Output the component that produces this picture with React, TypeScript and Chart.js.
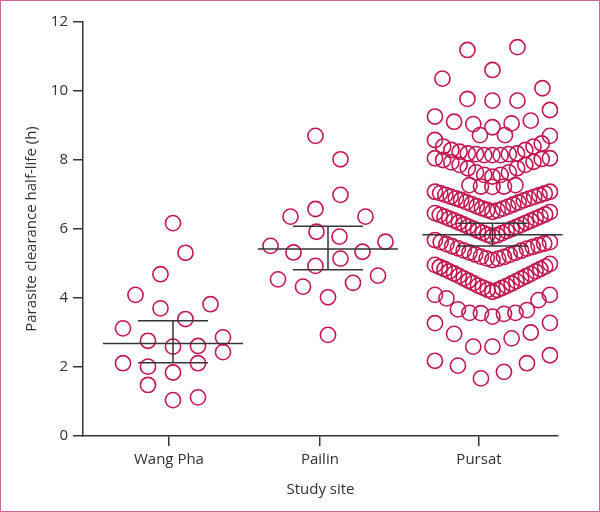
import { useEffect, useRef } from 'react';
import { Chart, registerables } from 'chart.js';

Chart.register(...registerables);

// ---- Data ----
const sites = ['Wang Pha', 'Pailin', 'Pursat'];

// Each row lists values left -> right as they are spread in the swarm (null = empty slot)
const wangPhaRows: (number | null)[][] = [
  [6.17],
  [4.69, 5.31],
  [4.09, 3.7, 3.39, 3.82],
  [3.12, 2.76, 2.59, 2.61, 2.86],
  [2.11, 2.01, 1.84, 2.11, 2.43],
  [1.48, 1.04, 1.12],
];

const pailinRows: (number | null)[][] = [
  [8.7, 8.02],
  [6.36, 6.58, 6.99, 6.36],
  [5.51, 5.32, 5.92, 5.78, 5.34, 5.63],
  [4.93, 5.14],
  [4.54, 4.33, 4.02, 4.44, 4.65],
  [2.93],
];

const pursatRows: (number | null)[][] = [
  [null, 11.19, null, 11.27, null],
  [10.36, null, 10.61, null, 10.08],
  [9.77, 9.72, 9.72],
  [9.26, 9.11, 9.04, 8.95, 9.06, 9.14, 9.45],
  [8.72, 8.72],
  [8.58, 8.39, 8.29, 8.24, 8.19, 8.17, 8.14, 8.14, 8.14, 8.17, 8.19, 8.29, 8.39, 8.48, 8.7],
  [8.05, 8.0, 7.93, 7.86, 7.76, 7.64, 7.57, 7.52, 7.57, 7.64, 7.76, 7.86, 7.95, 8.03, 8.05],
  [null, null, null, 7.27, 7.23, 7.22, 7.23, 7.27, null, null, null],
  [7.08, 7.04, 6.99, 6.94, 6.89, 6.84, 6.78, 6.72, 6.66, 6.6, 6.55, 6.5, 6.54, 6.59, 6.65, 6.71, 6.77, 6.83, 6.88, 6.93, 6.98, 7.03, 7.08],
  [6.46, 6.41, 6.36, 6.3, 6.25, 6.19, 6.13, 6.07, 6.01, 5.95, 5.89, 5.83, 5.78, 5.82, 5.88, 5.94, 6.0, 6.06, 6.12, 6.18, 6.24, 6.3, 6.36, 6.42, 6.49],
  [5.68, 5.62, 5.56, 5.5, 5.44, 5.38, 5.32, 5.26, 5.2, 5.15, 5.1, 5.14, 5.19, 5.25, 5.31, 5.37, 5.43, 5.48, 5.53, 5.58, 5.62],
  [4.96, 4.9, 4.84, 4.77, 4.71, 4.64, 4.57, 4.5, 4.43, 4.36, 4.3, 4.24, 4.18, 4.23, 4.29, 4.35, 4.42, 4.49, 4.56, 4.63, 4.7, 4.77, 4.84, 4.91, 4.99],
  [4.09, 3.99, 3.67, 3.57, 3.56, 3.46, 3.54, 3.57, 3.65, 3.94, 4.09],
  [3.27, 2.96, 2.59, 2.59, 2.83, 3.0, 3.28],
  [2.18, 2.04, 1.67, 1.86, 2.11, 2.34],
];

const geoMeans = [2.68, 5.42, 5.83];
const ciLower = [2.12, 4.82, 5.51];
const ciUpper = [3.34, 6.08, 6.17];

const yTicks = [0, 2, 4, 6, 8, 10, 12];

// ---- Layout constants ----
const groupCenters = [1, 2, 3.061];
const tickPositions = [0.974, 1.948, 2.974];
const X_MIN = 0.4194;
const X_MAX = 3.4839;
const MAX_STEP = 25 / 155;
const MAX_SPAN = 115 / 155;
const MEAN_HALF = 0.452;
const CAP_HALF = 0.226;

const MARK = '#c3174f';
const AXIS = '#363636';
const TEXT = '#303030';
const FONT = "'Open Sans', sans-serif";

function layoutRows(rows: (number | null)[][], center: number) {
  const pts: { x: number; y: number }[] = [];
  rows.forEach((row) => {
    const n = row.length;
    const step = n > 1 ? Math.min(MAX_STEP, MAX_SPAN / (n - 1)) : 0;
    row.forEach((v, i) => {
      if (v == null) return;
      pts.push({ x: center + (i - (n - 1) / 2) * step, y: v });
    });
  });
  return pts;
}

const summaryPlugin = {
  id: 'summaryLines',
  afterDatasetsDraw(chart: any) {
    const { ctx, scales } = chart;
    const xs = scales.x;
    const ys = scales.y;
    ctx.save();
    ctx.strokeStyle = AXIS;
    ctx.lineWidth = 1.5;
    groupCenters.forEach((c, i) => {
      const ym = ys.getPixelForValue(geoMeans[i]);
      const yl = ys.getPixelForValue(ciLower[i]);
      const yu = ys.getPixelForValue(ciUpper[i]);
      const xc = xs.getPixelForValue(c);
      ctx.beginPath();
      ctx.moveTo(xs.getPixelForValue(c - MEAN_HALF), ym);
      ctx.lineTo(xs.getPixelForValue(c + MEAN_HALF), ym);
      ctx.moveTo(xs.getPixelForValue(c - CAP_HALF), yu);
      ctx.lineTo(xs.getPixelForValue(c + CAP_HALF), yu);
      ctx.moveTo(xs.getPixelForValue(c - CAP_HALF), yl);
      ctx.lineTo(xs.getPixelForValue(c + CAP_HALF), yl);
      ctx.moveTo(xc, yu);
      ctx.lineTo(xc, yl);
      ctx.stroke();
    });
    ctx.restore();
  },
};

export default function App() {
  const ref = useRef<HTMLCanvasElement | null>(null);

  useEffect(() => {
    if (!ref.current) return;
    Chart.defaults.font.family = FONT;
    const groups = [wangPhaRows, pailinRows, pursatRows];
    const datasets = groups.map((rows, i) => ({
      label: sites[i],
      data: layoutRows(rows, groupCenters[i]),
      pointStyle: 'circle',
      pointRadius: 7.6,
      pointHoverRadius: 7.6,
      pointBorderWidth: 1.6,
      borderColor: MARK,
      pointBorderColor: MARK,
      backgroundColor: 'rgba(0,0,0,0)',
      pointBackgroundColor: 'rgba(0,0,0,0)',
      showLine: false,
    }));

    const chart = new Chart(ref.current, {
      type: 'scatter',
      data: { datasets } as any,
      plugins: [summaryPlugin],
      options: {
        responsive: false,
        animation: false,
        devicePixelRatio: 1,
        layout: { padding: { top: 22, right: 42, left: 0, bottom: 0 } },
        plugins: { legend: { display: false }, tooltip: { enabled: false } },
        scales: {
          x: {
            type: 'linear',
            min: X_MIN,
            max: X_MAX,
            afterBuildTicks: (s: any) => {
              s.ticks = tickPositions.map((v) => ({ value: v }));
            },
            afterFit: (s: any) => {
              s.height = 76;
            },
            ticks: {
              callback: (_v: any, i: number) => sites[i],
              font: { size: 15, family: FONT },
              color: TEXT,
              padding: 5,
              autoSkip: false,
              maxRotation: 0,
            },
            grid: { drawOnChartArea: false, drawTicks: true, tickLength: 10, color: AXIS, lineWidth: 1.5 },
            border: { display: true, color: AXIS, width: 1.5 },
            title: {
              display: true,
              text: 'Study site',
              font: { size: 15, family: FONT },
              color: TEXT,
              padding: { top: 0, bottom: 13 },
            },
          },
          y: {
            type: 'linear',
            min: 0,
            max: 12,
            afterBuildTicks: (s: any) => {
              s.ticks = yTicks.map((v) => ({ value: v }));
            },
            afterFit: (s: any) => {
              s.width = 83;
            },
            ticks: { font: { size: 15, family: FONT }, color: TEXT, padding: 5 },
            grid: { drawOnChartArea: false, drawTicks: true, tickLength: 10, color: AXIS, lineWidth: 1.5 },
            border: { display: true, color: AXIS, width: 1.5 },
            title: {
              display: true,
              text: 'Parasite clearance half-life (h)',
              font: { size: 15, family: FONT },
              color: TEXT,
              padding: { top: 22.5, bottom: 0 },
            },
          },
        },
      } as any,
    });
    return () => chart.destroy();
  }, []);

  return (
    <div style={{ position: 'fixed', left: 0, top: 0, width: 600, height: 512, background: '#fff' }}>
      <canvas ref={ref} width={600} height={512} style={{ width: 600, height: 512, display: 'block' }} />
      <div
        style={{
          position: 'absolute',
          inset: 0,
          border: '1px solid #d06a89',
          pointerEvents: 'none',
        }}
      />
    </div>
  );
}
